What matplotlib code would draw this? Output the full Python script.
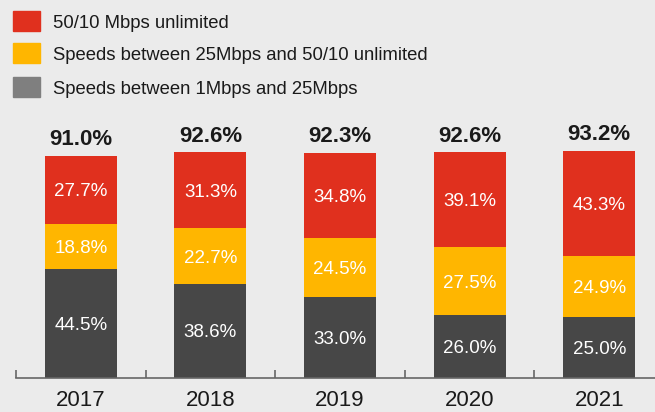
import matplotlib.pyplot as plt
from matplotlib.patches import Rectangle

plt.rcParams["font.family"] = ["Liberation Sans", "DejaVu Sans"]

# data
years = ["2017", "2018", "2019", "2020", "2021"]
low_speed = [44.5, 38.6, 33.0, 26.0, 25.0]      # 1Mbps - 25Mbps
mid_speed = [18.8, 22.7, 24.5, 27.5, 24.9]      # 25Mbps - 50/10
unlimited = [27.7, 31.3, 34.8, 39.1, 43.3]      # 50/10 unlimited
totals = ["91.0%", "92.6%", "92.3%", "92.6%", "93.2%"]
legend_labels = [
    "50/10 Mbps unlimited",
    "Speeds between 25Mbps and 50/10 unlimited",
    "Speeds between 1Mbps and 25Mbps",
]

bg = "#ebebeb"
red, yellow, dark = "#e0301e", "#ffb600", "#474747"
legend_grey = "#7f7f7f"
W, H = 655, 412

fig = plt.figure(figsize=(W / 100, H / 100), dpi=100, facecolor=bg)
ax = fig.add_axes([16 / W, 34 / H, (W - 16) / W, 244 / H], facecolor=bg)

x = list(range(len(years)))
width = 0.556
mid_bottom = low_speed
top_bottom = [a + b for a, b in zip(low_speed, mid_speed)]

for vals, bottoms, col in (
    (low_speed, [0] * len(x), dark),
    (mid_speed, mid_bottom, yellow),
    (unlimited, top_bottom, red),
):
    bars = ax.bar(x, vals, width, bottom=bottoms, color=col, linewidth=0)
    for rect, v in zip(bars, vals):
        ax.text(rect.get_x() + rect.get_width() / 2,
                rect.get_y() + rect.get_height() / 2,
                f"{v:.1f}%", ha="center", va="center_baseline",
                color="white", fontsize=13.5)

for xi, lo, mi, hi, lab in zip(x, low_speed, mid_speed, unlimited, totals):
    ax.annotate(lab, (xi, lo + mi + hi), xytext=(0, 4),
                textcoords="offset points", ha="center", va="bottom",
                fontsize=16, fontweight="bold", color="#1a1a1a")

ax.set_xlim(-0.5, 4.43)
ax.set_ylim(0, 100)
for side in ("left", "right", "top"):
    ax.spines[side].set_visible(False)
ax.spines["bottom"].set_color("#666666")
ax.spines["bottom"].set_linewidth(1.2)
ax.set_yticks([])
ax.set_xticks(x)
ax.set_xticklabels(years, fontsize=16, color="#1a1a1a")
ax.tick_params(axis="x", which="major", length=0, pad=9)
ax.set_xticks([i - 0.5 for i in x], minor=True)
ax.tick_params(axis="x", which="minor", direction="in", length=6,
               width=1.2, color="#666666")

# legend drawn by hand, stacked top-left
swatches = [red, yellow, legend_grey]
rows_y = [21, 53, 87]
for col, lab, yc in zip(swatches, legend_labels, rows_y):
    fig.patches.append(Rectangle((13 / W, 1 - (yc + 10) / H), 27 / W, 20 / H,
                                 transform=fig.transFigure, color=col))
    fig.text(53 / W, 1 - yc / H, lab, ha="left", va="center_baseline",
             fontsize=13.3, color="#1a1a1a")

fig.savefig("out.png", dpi=100, facecolor=bg)
